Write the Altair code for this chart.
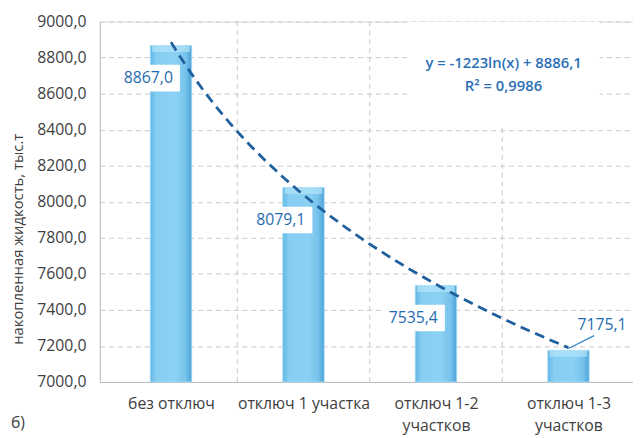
import json
import altair as alt
import pandas as pd

# ---- data ----
CATEGORIES = ["без отключ", "отключ 1 участка", "отключ 1-2\nучастков", "отключ 1-3\nучастков"]
POSITIONS = [1, 2, 3, 4]
VALUES = [8867.0, 8079.1, 7535.4, 7175.1]
LABELS = ["8867,0", "8079,1", "7535,4", "7175,1"]
Y_TICKS = [7000, 7200, 7400, 7600, 7800, 8000, 8200, 8400, 8600, 8800, 9000]
CAT_BOUNDARIES = [1.5, 2.5, 3.5]
EQUATION_LINES = ["y = -1223ln(x) + 8886,1", "R² = 0,9986"]
EQUATION_X = [3.51, 3.51]
EQUATION_Y = [8770, 8644]
Y_TITLE = "накопленная жидкость, тыс.т"
PANEL_TAG = "б)"

FONT = "Open Sans"
W, H = 540, 365
X_DOMAIN = [0.5, 4.45]
Y_DOMAIN = [7000, 9000]

df = pd.DataFrame({"cat": CATEGORIES, "idx": POSITIONS, "value": VALUES, "label": LABELS})
main = df.iloc[:3]
last = df.iloc[3:]
eq = pd.DataFrame({"t": EQUATION_LINES, "idx": EQUATION_X, "value": EQUATION_Y})
eq_box = pd.DataFrame({"idx": [sum(EQUATION_X) / 2], "value": [sum(EQUATION_Y) / 2]})
bounds = pd.DataFrame({"idx": CAT_BOUNDARIES})

cat_js = json.dumps(CATEGORIES, ensure_ascii=False)

xscale = alt.Scale(domain=X_DOMAIN, nice=False, zero=False)
yscale = alt.Scale(domain=Y_DOMAIN, nice=False, zero=False)

x_axis = alt.Axis(
    values=POSITIONS,
    tickCount=20,
    labelExpr=f"split({cat_js}[datum.value - 1], '\\n')",
    title=None, grid=False,
)
y_axis = alt.Axis(
    values=Y_TICKS,
    tickCount=20,
    labelExpr="replace(format(datum.value, '.1f'), '.', ',')",
    title=Y_TITLE, grid=True, gridDash=[5, 4], labelOverlap=False,
)

X = alt.X("idx:Q", scale=xscale, axis=x_axis)
Y = alt.Y("value:Q", scale=yscale, axis=y_axis)

base = alt.Chart(df)

bars = base.mark_bar(
    size=42,
    color=alt.Gradient(
        gradient="linear", x1=0, x2=1, y1=0, y2=0,
        stops=[
            alt.GradientStop(color="#62b6e4", offset=0),
            alt.GradientStop(color="#86cef2", offset=0.15),
            alt.GradientStop(color="#8cd1f3", offset=0.6),
            alt.GradientStop(color="#76c3ec", offset=0.85),
            alt.GradientStop(color="#4ea2d6", offset=1),
        ],
    ),
    stroke="#a8ddf6", strokeWidth=0.8,
).encode(x=X, y=Y, y2=alt.datum(Y_DOMAIN[0]))

vgrid = alt.Chart(bounds).mark_rule(color="#c8c8c8", strokeDash=[5, 4], strokeWidth=1).encode(
    x=X,
)

bar_cap = base.mark_tick(
    orient="horizontal", size=38, thickness=6, color="#b3e4f9", yOffset=3.5,
).encode(x=X, y=Y)

trend = base.transform_regression("idx", "value", method="log").mark_line(
    color="#1f5f9e", strokeDash=[10, 6], strokeWidth=2.8
).encode(x=X, y=Y)

box_shape = "M-1,-0.42H1V0.42H-1Z"
label_boxes = alt.Chart(main).mark_point(
    shape=box_shape, size=64 * 64, filled=True, fill="white", opacity=1,
    strokeWidth=0, xOffset=-23, yOffset=33,
).encode(x=X, y=Y)
label_text = alt.Chart(main).mark_text(
    font=FONT, fontSize=16, color="#1f6cb0", xOffset=-23, yOffset=33, baseline="middle",
).encode(x=X, y=Y, text="label:N")
last_text = alt.Chart(last).mark_text(
    font=FONT, fontSize=16, color="#1f6cb0", xOffset=34, yOffset=-26, baseline="middle",
).encode(x=X, y=Y, text="label:N")
leader = alt.Chart(last).mark_rule(
    color="#2e86c8", strokeWidth=1.2, yOffset=-2, x2Offset=26, y2Offset=-15,
).encode(x=X, y=Y, x2="idx:Q", y2="value:Q")

eq_bg = alt.Chart(eq_box).mark_point(
    shape="M-1,-0.544H1V0.544H-1Z", size=195 * 195, filled=True, fill="white",
    opacity=1, strokeWidth=0,
).encode(x=X, y=Y)
eq_text = alt.Chart(eq).mark_text(
    font=FONT, fontSize=15, fontWeight=600, color="#2a70b6", baseline="middle",
).encode(x=X, y=Y, text="t:N")

tag = alt.Chart(pd.DataFrame({"t": [PANEL_TAG]})).mark_text(
    font=FONT, fontSize=16, color="#404040", align="left", baseline="middle",
).encode(
    x=alt.value(-90), y=alt.value(407), text="t:N",
)

chart = alt.layer(
    bars, vgrid, bar_cap, eq_bg, trend, label_boxes, label_text, last_text, leader, eq_text, tag
).properties(
    width=W, height=H,
    autosize=alt.AutoSizeParams(type="none"),
    padding={"left": 93, "top": 11, "right": 0, "bottom": 54},
).configure_view(
    stroke="#bfbfbf", strokeWidth=1,
).configure(background="white").configure_axisX(
    grid=False, ticks=False, domain=True, domainColor="#bfbfbf",
    labelFont=FONT, labelFontSize=16, labelColor="#404040",
    labelPadding=14, labelLineHeight=22, labelFlush=False, labelOverlap=False,
).configure_axisY(
    grid=True, gridDash=[5, 4], gridColor="#c8c8c8", gridWidth=1,
    ticks=False, domain=True, domainColor="#bfbfbf",
    labelFont=FONT, labelFontSize=16, labelColor="#404040", labelPadding=14,
    labelOverlap=False,
    titleFont=FONT, titleFontSize=15, titleFontWeight="normal",
    titleColor="#404040", titleAngle=270, titleX=-83, titleY=220,
    titleAlign="center", titleBaseline="middle",
)

chart.save("out.html", embed_options={"renderer": "svg", "actions": False})
